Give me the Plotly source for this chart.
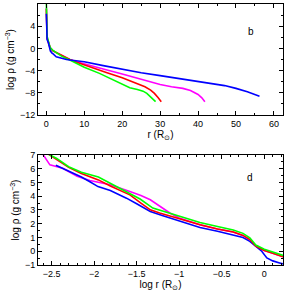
import plotly.graph_objects as go
from plotly.subplots import make_subplots

# ---- Panel b: log rho vs r (R_sun) ----
green_b_r = [0.001, 0.003, 0.015, 0.06, 0.2, 0.5, 1.0, 1.66, 2.5, 4, 6.2, 8, 10, 14, 18, 20, 22, 24, 25.5, 26.5, 27.5, 28.2, 28.8]
green_b_rho = [8.2, 7.0, 5.0, 3.1, 2.2, 1.4, 0.15, -0.3, -0.75, -1.4, -2.1, -2.75, -3.4, -4.5, -5.8, -6.5, -7.1, -7.4, -7.7, -8.1, -8.7, -9.2, -9.6]

red_b_r = [0.0028, 0.004, 0.01, 0.02, 0.05, 0.1, 0.2, 0.5, 1.0, 1.66, 2.5, 4, 6.2, 8, 10, 13, 16, 20, 22, 24, 26, 27.5, 28.5, 29.5, 30.3]
red_b_rho = [7.1, 6.7, 5.3, 4.6, 3.3, 2.5, 1.9, 1.2, 0.1, -0.4, -0.7, -1.3, -2.0, -2.5, -3.0, -3.7, -4.4, -5.3, -5.8, -6.3, -6.9, -7.5, -8.1, -8.9, -9.6]

magenta_b_r = [0.0025, 0.004, 0.01, 0.02, 0.05, 0.1, 0.2, 0.5, 1.0, 1.66, 2.5, 4, 6.2, 8, 10, 15, 20, 25, 27.3, 30, 33, 36, 38, 40, 41, 41.8]
magenta_b_rho = [7.3, 6.1, 5.0, 4.8, 3.6, 2.6, 1.9, 1.2, 0.1, -0.4, -0.7, -1.3, -2.0, -2.4, -2.8, -3.7, -4.6, -5.5, -5.9, -6.5, -6.9, -7.2, -7.6, -8.3, -8.9, -9.6]

blue_b_r = [0.0035, 0.005, 0.01, 0.02, 0.05, 0.1, 0.2, 0.5, 0.93, 1.07, 1.5, 1.66, 2.6, 4, 5.3, 6.2, 8, 10, 15, 20, 25, 30, 35, 40, 44, 47, 50, 53, 56.2]
blue_b_rho = [6.25, 5.85, 4.85, 4.1, 2.8, 2.2, 1.6, 1.1, 0.0, -0.49, -0.85, -0.92, -1.5, -1.8, -2.0, -2.1, -2.25, -2.4, -3.1, -3.8, -4.4, -4.9, -5.4, -5.9, -6.3, -6.7, -7.2, -7.8, -8.6]

# ---- Panel d: log rho vs log r ----
green_d_logr = [-2.58, -2.44, -2.3, -2.15, -1.95, -1.81, -1.6, -1.46, -1.31, -1.11, -0.9, -0.756, -0.55, -0.365, -0.25, -0.17, -0.1, 0.0, 0.1, 0.22]
green_d_rho = [7.2, 6.75, 6.15, 5.75, 5.4, 4.95, 4.25, 3.8, 3.14, 2.78, 2.35, 2.09, 1.8, 1.55, 1.3, 0.98, 0.45, 0.15, -0.05, -0.3]

red_d_logr = [-2.56, -2.44, -2.3, -2.15, -1.95, -1.81, -1.58, -1.45, -1.34, -1.23, -1.0, -0.756, -0.55, -0.365, -0.25, -0.17, -0.1, 0.0, 0.1, 0.22]
red_d_rho = [7.15, 6.64, 6.1, 5.65, 5.19, 4.75, 4.10, 3.5, 3.01, 2.78, 2.35, 1.93, 1.62, 1.4, 1.15, 0.85, 0.38, 0.05, -0.15, -0.4]

magenta_d_logr = [-2.64, -2.6, -2.52, -2.37, -2.2, -2.05, -1.95, -1.81, -1.58, -1.45, -1.34, -1.23, -1.11, -1.0, -0.756, -0.55, -0.365, -0.25, -0.17, -0.1, 0.0, 0.1, 0.22]
magenta_d_rho = [7.4, 7.0, 6.28, 6.04, 5.45, 5.15, 5.0, 4.83, 4.34, 4.05, 3.74, 3.26, 2.78, 2.42, 1.93, 1.62, 1.4, 1.15, 0.85, 0.38, 0.05, -0.15, -0.4]

blue_d_logr = [-2.45, -2.3, -2.15, -2.05, -1.955, -1.81, -1.62, -1.5, -1.34, -1.2, -1.0, -0.756, -0.55, -0.365, -0.25, -0.17, -0.1, -0.03, 0.03, 0.1, 0.18, 0.22]
blue_d_rho = [6.25, 5.85, 5.4, 5.05, 4.70, 4.41, 3.86, 3.45, 2.89, 2.6, 2.2, 1.73, 1.45, 1.2, 1.0, 0.72, 0.38, 0.0, -0.49, -0.7, -0.85, -0.92]

GREEN, RED, MAGENTA, BLUE = "#00ff00", "#ff0000", "#ff00ff", "#0000ff"
LW = 1.6
FONT = "Liberation Sans"

fig = make_subplots(rows=2, cols=1, vertical_spacing=0.0)

for xs, ys, c in [(magenta_b_r, magenta_b_rho, MAGENTA), (red_b_r, red_b_rho, RED),
                  (green_b_r, green_b_rho, GREEN), (blue_b_r, blue_b_rho, BLUE)]:
    fig.add_trace(go.Scatter(x=xs, y=ys, mode="lines", line=dict(color=c, width=LW),
                             showlegend=False, hoverinfo="skip"), row=1, col=1)

for xs, ys, c in [(magenta_d_logr, magenta_d_rho, MAGENTA), (blue_d_logr, blue_d_rho, BLUE),
                  (red_d_logr, red_d_rho, RED), (green_d_logr, green_d_rho, GREEN)]:
    fig.add_trace(go.Scatter(x=xs, y=ys, mode="lines", line=dict(color=c, width=LW),
                             showlegend=False, hoverinfo="skip"), row=2, col=1)

axis_common = dict(showline=True, linecolor="black", linewidth=1, mirror="allticks",
                   ticks="inside", ticklen=4, tickcolor="black", tickwidth=1,
                   showgrid=False, zeroline=False, automargin=False,
                   tickfont=dict(family=FONT, size=9, color="black"))
TFONT = dict(family=FONT, size=10, color="black")

fig.update_xaxes(axis_common, row=1, col=1, range=[-2.2, 62.4], dtick=10, tick0=0,
                 minor=dict(ticks="inside", dtick=5, ticklen=2, tickcolor="black"),
                 title=dict(text="r (R<sub>⊙</sub>)", font=TFONT, standoff=1))
fig.update_yaxes(axis_common, row=1, col=1, range=[-12, 8], dtick=4, tick0=0,
                 minor=dict(ticks="inside", dtick=2, ticklen=2, tickcolor="black"),
                 domain=[0.5747, 1.0],
                 title=dict(text="log ρ (g cm<sup>−3</sup>)", font=TFONT, standoff=3))
fig.update_xaxes(axis_common, row=2, col=1, range=[-2.66, 0.22], dtick=0.5, tick0=0,
                 minor=dict(ticks="inside", dtick=0.1, ticklen=2, tickcolor="black"),
                 title=dict(text="log r (R<sub>⊙</sub>)", font=TFONT, standoff=1))
fig.update_yaxes(axis_common, row=2, col=1, range=[-1, 7], dtick=1, tick0=0,
                 minor=dict(ticks="inside", dtick=0.5, ticklen=2, tickcolor="black"),
                 domain=[0.0, 0.4215],
                 title=dict(text="log ρ (g cm<sup>−3</sup>)", font=TFONT, standoff=3))

fig.add_annotation(text="b", xref="paper", yref="paper", x=(256 - 38) / 245, y=(265 - 24) / 261,
                   showarrow=False, font=dict(family=FONT, size=10, color="black"))
fig.add_annotation(text="d", xref="paper", yref="paper", x=(255 - 38) / 245, y=(265 - 177) / 261,
                   showarrow=False, font=dict(family=FONT, size=10, color="black"))

fig.update_layout(width=287, height=295, margin=dict(l=38, r=4, t=4, b=30, autoexpand=False),
                  plot_bgcolor="white", paper_bgcolor="white", hovermode=False,
                  font=dict(family=FONT, size=9, color="black"))

fig.write_html("out.html", config={"displayModeBar": False, "staticPlot": True},
               post_script="document.body.style.margin='0';document.body.style.overflow='hidden';")
